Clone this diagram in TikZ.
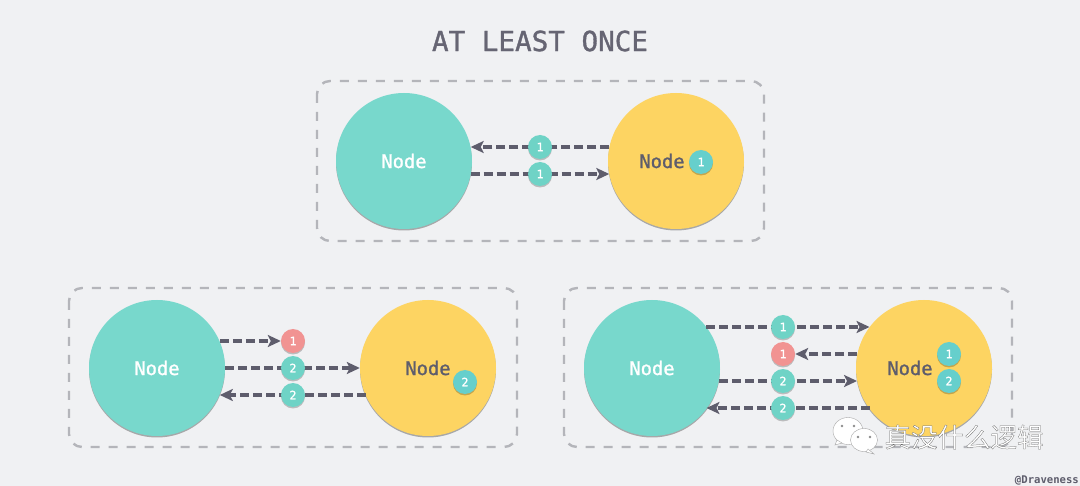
\documentclass[tikz,border=0pt]{standalone}
\usepackage{fontspec}
\setmonofont{DejaVu Sans Mono}
\newfontfamily\semimono[FakeBold=1.2]{DejaVu Sans Mono}
\newfontfamily\cjkwm{Noto Sans CJK SC}
\usetikzlibrary{arrows.meta,shadows}
\definecolor{bgc}{HTML}{F0F1F3}
\definecolor{tealc}{HTML}{78D8CC}
\definecolor{yelc}{HTML}{FDD462}
\definecolor{inkc}{HTML}{5E5D6C}
\definecolor{titlec}{HTML}{666573}
\definecolor{dashc}{HTML}{B4B5BA}
\definecolor{redc}{HTML}{F19392}
\definecolor{chipc}{HTML}{6FD3C6}
\definecolor{innerc}{HTML}{66CFCC}
\tikzset{
  panel/.style={draw=dashc,line width=2.4pt,rounded corners=13pt,dash pattern=on 9pt off 9pt},
  peer/.style={circle,minimum size=136pt,inner sep=0pt,font=\semimono\fontsize{18.8}{20}\selectfont,
    drop shadow={shadow xshift=0pt,shadow yshift=-1.5pt,opacity=.3,fill=black}},
  peerA/.style={peer,fill=tealc,text=white},
  peerB/.style={peer,fill=yelc,text=inkc},
  chip/.style={circle,minimum size=24pt,inner sep=0pt,text=white,font=\semimono\fontsize{11.5}{12}\selectfont,
    drop shadow={shadow xshift=0pt,shadow yshift=-1.5pt,opacity=.22,fill=black}},
  okchip/.style={chip,fill=chipc},
  badchip/.style={chip,fill=redc},
  inchip/.style={chip,fill=innerc},
  msg/.style={draw=inkc,line width=4pt,dash pattern=on 9pt off 4pt,
    -{Stealth[length=13pt,width=12pt,inset=3pt]}},
}
\begin{document}
\begin{tikzpicture}[x=1pt,y=-1pt]
\fill[bgc] (0,0) rectangle (1080,486);
\useasboundingbox (0,0) rectangle (1080,486);
\node[font=\semimono\fontsize{27.6}{30}\selectfont,text=titlec] (title) at (540,41) {AT LEAST ONCE};
\draw[panel] (317,81) rectangle (764,241);
\draw[panel] (69,288) rectangle (517,447);
\draw[panel] (564,288) rectangle (1012,447);
% top
\node[peerA] (ta) at (404,161) {\raisebox{-1pt}{Node}};
\node[peerB] (tb) at (676,161) {\raisebox{-1pt}{Node}\kern28pt};
\coordinate (t1c) at (540,147);
\coordinate (t2c) at (540,174);
\draw[msg] (tb.168 |- t1c) -- (ta.12 |- t1c);
\draw[msg] (ta.-12 |- t2c) -- (tb.-168 |- t2c);
\node[okchip] (t1) at (t1c) {1};
\node[okchip] (t2) at (t2c) {1};
\node[inchip] (t3) at (701,162) {1};
% bottom left
\node[peerA] (la) at (157,368) {\raisebox{-1pt}{Node}};
\node[peerB] (lb) at (428,368) {\raisebox{-1pt}{Node}};
\node[badchip] (l1) at (293,341) {1};
\node[inchip] (l4) at (465,382) {2};
\coordinate (l2c) at (293,368);
\coordinate (l3c) at (293,395);
\draw[msg] (la.23.4 |- l1.center) -- (l1.west);
\draw[msg] (la.0) -- (lb.180);
\draw[msg] (lb.-156.6 |- l3c) -- (la.-23.4 |- l3c);
\node[okchip] (l2) at (l2c) {2};
\node[okchip] (l3) at (l3c) {2};
% bottom right
\node[peerA] (ra) at (652,368) {\raisebox{-1pt}{Node}};
\node[peerB] (rb) at (924,368) {\raisebox{-1pt}{Node}\kern28pt};
\node[badchip] (r2) at (783,354) {1};
\coordinate (r1c) at (783,327);
\coordinate (r3c) at (783,381);
\coordinate (r4c) at (783,408);
\draw[msg] (ra.37 |- r1c) -- (rb.143 |- r1c);
\draw[msg] (rb.168 |- r2.center) -- (r2.east);
\draw[msg] (ra.-11 |- r3c) -- (rb.-169 |- r3c);
\draw[msg] (rb.-143 |- r4c) -- (ra.-37 |- r4c);
\node[okchip] (r1) at (r1c) {1};
\node[okchip] (r3) at (r3c) {2};
\node[okchip] (r4) at (r4c) {2};
\node[inchip] (r5) at (949,354) {1};
\node[inchip] (r6) at (949,381) {2};
% watermark
\begin{scope}[draw=black!35,line width=.4pt,fill=white]
\filldraw (848,431) ellipse [x radius=15pt,y radius=13.5pt];
\filldraw (837,440) -- (842,443) -- (835,445) -- cycle;
\filldraw (864,440) ellipse [x radius=13.5pt,y radius=11.5pt];
\filldraw (868,449) -- (874,454) -- (866,452) -- cycle;
\fill[black!45] (842,426) circle (1.3pt) (854,426) circle (1.3pt) (858,437) circle (1.3pt) (870,437) circle (1.3pt);
\end{scope}
\node[font=\cjkwm\fontsize{26.5}{28}\selectfont,text=white,inner sep=0pt] (mark) at (964,437)
  {\special{pdf:code 2 Tr 0.25 w 0.4 G}真没什么逻辑\special{pdf:code 0 Tr}};
\node[font=\ttfamily\bfseries\fontsize{10.6}{12}\selectfont,text=inkc,anchor=east,inner sep=0pt] (sig) at (1079,480) {@Draveness};
\end{tikzpicture}
\end{document}
